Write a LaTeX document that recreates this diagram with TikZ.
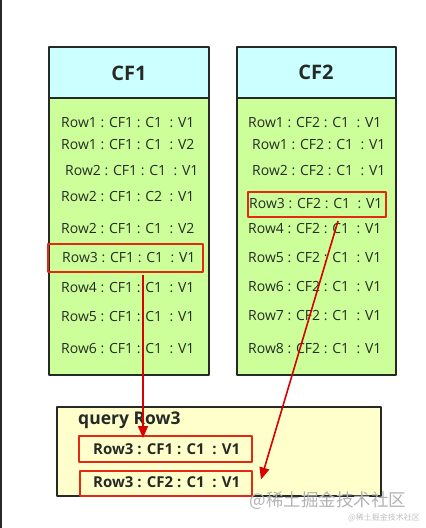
\documentclass[tikz,border=0pt]{standalone}
\usepackage{fontspec}
\setmainfont{Open Sans}
\newfontfamily\cjkfont{Noto Sans CJK SC}
\usetikzlibrary{arrows.meta}
\definecolor{headCyan}{RGB}{204,255,255}
\definecolor{bodyGreen}{RGB}{204,255,153}
\definecolor{queryYellow}{RGB}{255,255,204}
\definecolor{hitRed}{RGB}{228,40,20}
\definecolor{lineDark}{RGB}{38,42,38}

\begin{document}
\begin{tikzpicture}[x=1pt, y=-1pt, line join=round,
  famhead/.style={draw=lineDark, line width=1.8pt, fill=headCyan},
  fambody/.style={draw=lineDark, line width=1.8pt, fill=bodyGreen},
  cell/.style={anchor=west, inner sep=0pt, font=\fontsize{14}{16}\selectfont, text=lineDark},
  hitbox/.style={draw=hitRed, line width=2pt},
  fetch/.style={-{Triangle[length=12pt, width=10pt]}, draw=red!85!black, fill=red!85!black, line width=1.6pt}]
\useasboundingbox (0,0) rectangle (426,528);
\draw[lineDark, line width=1.6pt] (1,0) -- (1,528);
% column families
\draw[famhead] (49,47) rectangle (209,98);
\draw[fambody] (49,98) rectangle (209,375);
\draw[famhead] (237,47) rectangle (396,98);
\draw[fambody] (237,98) rectangle (396,375);
\node[font=\fontsize{20}{22}\selectfont\bfseries, text=lineDark] (cfA) at (129,73) {CF1};
\node[font=\fontsize{20}{22}\selectfont\bfseries, text=lineDark] (cfB) at (316,72) {CF2};
% CF1 cells
\node[cell] (a1) at (61,123) {Row1 : CF1 : C1 \ : V1};
\node[cell] (a2) at (61,145) {Row1 : CF1 : C1 \ : V2};
\node[cell] (a3) at (65,171) {Row2 : CF1 : C1 \ : V1};
\node[cell] (a4) at (61,197) {Row2 : CF1 : C2 \ : V1};
\node[cell] (a5) at (61,229) {Row2 : CF1 : C1 \ : V2};
\node[cell] (a6) at (62,258) {Row3 : CF1 : C1 \ : V1};
\node[cell] (a7) at (61,288) {Row4 : CF1 : C1 \ : V1};
\node[cell] (a8) at (61,317) {Row5 : CF1 : C1 \ : V1};
\node[cell] (a9) at (61,349) {Row6 : CF1 : C1 \ : V1};
% CF2 cells
\node[cell] (b1) at (248,123) {Row1 : CF2 : C1 \ : V1};
\node[cell] (b2) at (252,145) {Row1 : CF2 : C1 \ : V1};
\node[cell] (b3) at (252,171) {Row2 : CF2 : C1 \ : V1};
\node[cell] (b4) at (249,204) {Row3 : CF2 : C1 \ : V1};
\node[cell] (b5) at (248,229) {Row4 : CF2 : C1 \ : V1};
\node[cell] (b6) at (248,258) {Row5 : CF2 : C1 \ : V1};
\node[cell] (b7) at (248,287) {Row6 : CF2 : C1 \ : V1};
\node[cell] (b8) at (248,316) {Row7 : CF2 : C1 \ : V1};
\node[cell] (b9) at (248,349) {Row8 : CF2 : C1 \ : V1};
% matching cells
\node[hitbox, minimum width=155pt, minimum height=28pt] (hitA) at (125.5,257.5) {};
\node[hitbox, minimum width=138pt, minimum height=25pt] (hitB) at (317,204.5) {};
% query result
\draw[fambody, fill=queryYellow] (57,407) rectangle (381,496);
\node[anchor=west, inner sep=0pt, font=\fontsize{17.5}{20}\selectfont\bfseries, text=lineDark] (qry) at (78,420) {query Row3};
\node[hitbox, minimum width=173pt, minimum height=26pt] (resA) at (165.5,449) {};
\node[hitbox, minimum width=172pt, minimum height=25pt] (resB) at (166,483) {};
\node[cell, font=\fontsize{15}{17}\selectfont\bfseries] (ra) at (93,449) {Row3 : CF1 : C1 \ : V1};
\node[cell, font=\fontsize{15}{17}\selectfont\bfseries] (rb) at (93,482) {Row3 : CF2 : C1 \ : V1};
% fetch arrows
\draw[fetch] ([xshift=17.5pt, yshift=-2pt]hitA.south) -- ([xshift=-22.5pt, yshift=-3pt]resA.north);
\draw[fetch] ([xshift=21pt, yshift=-3pt]hitB.south) -- ([xshift=8pt, yshift=-10pt]resB.north east);
% watermark
\node[font=\cjkfont\fontsize{17.5}{19}\selectfont, text=black!30, inner sep=0pt] (wm) at (328,501) {@稀土掘金技术社区};
\node[font=\cjkfont\fontsize{8}{9}\selectfont, text=black!25, inner sep=0pt] (wms) at (384,518) {@稀土掘金技术社区};
\end{tikzpicture}
\end{document}
